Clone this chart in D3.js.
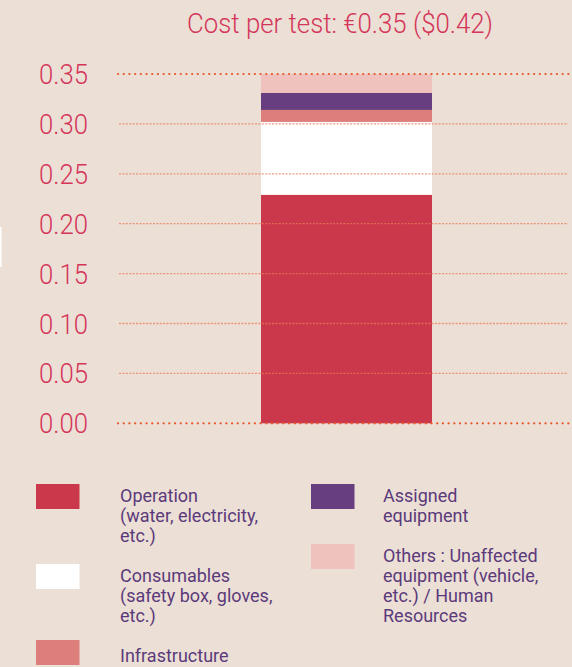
<!DOCTYPE html>
<html>
<head>
<meta charset="utf-8">
<script src="https://cdn.jsdelivr.net/npm/d3@7/dist/d3.min.js"></script>
<style>
  html, body { margin: 0; padding: 0; background: #ecdfd5; }
  svg { display: block; }
</style>
</head>
<body>
<script>
// Cost breakdown per test (EUR), stacked bottom to top
const categories = [
  "Operation",
  "Consumables",
  "Infrastructure",
  "Assigned equipment",
  "Others"
];
const values = [0.229, 0.073, 0.012, 0.017, 0.019];
const colors = ["#cc384b", "#ffffff", "#dd7e7c", "#673f80", "#efc2bd"];
const yTicks = [0.00, 0.05, 0.10, 0.15, 0.20, 0.25, 0.30, 0.35];
const titleText = "Cost per test: \u20AC0.35 ($0.42)";

// Legend entries: label lines and column/row placement
const legendLines = [
  ["Operation", "(water, electricity,", "etc.)"],
  ["Consumables", "(safety box, gloves,", "etc.)"],
  ["Infrastructure"],
  ["Assigned", "equipment"],
  ["Others : Unaffected", "equipment (vehicle,", "etc.) / Human", "Resources"]
];
const legendCol = [0, 0, 0, 1, 1];
const legendRow = [0, 1, 2, 0, 1];

const W = 572, H = 667;
const svg = d3.select("body").append("svg").attr("width", W).attr("height", H);

svg.append("rect").attr("width", W).attr("height", H).attr("fill", "#ecdfd5");
// thin light mark along the left edge
svg.append("rect").attr("x", 0).attr("y", 227).attr("width", 1.5).attr("height", 40).attr("fill", "#ffffff");

const y = d3.scaleLinear().domain([0, 0.35]).range([423.3, 74]);
const x = d3.scaleBand().domain(["total"]).range([261, 432]).padding(0);

// Stack the segments
const row = { key: "total" };
categories.forEach((c, i) => row[c] = values[i]);
const stacked = d3.stack().keys(categories)([row]);

svg.append("g").selectAll("rect")
  .data(stacked)
  .join("rect")
  .attr("x", x("total"))
  .attr("width", x.bandwidth())
  .attr("y", d => y(d[0][1]))
  .attr("height", d => y(d[0][0]) - y(d[0][1]))
  .attr("fill", (d, i) => colors[i]);

// Gridlines drawn over the bar
const grid = svg.append("g");
yTicks.forEach(t => {
  const edge = (t === 0 || t === 0.35);
  grid.append("line")
    .attr("x1", edge ? 118 : 119)
    .attr("x2", edge ? 572 : 568)
    .attr("y1", y(t)).attr("y2", y(t))
    .attr("stroke", edge ? "#e8562a" : "#ea7a55")
    .attr("stroke-opacity", edge ? 1 : 0.75)
    .attr("stroke-width", edge ? 2.2 : 1.3)
    .attr("stroke-linecap", edge ? "round" : "butt")
    .attr("stroke-dasharray", edge ? "0.1 5.6" : "2 1.4");
});

// Y axis labels
const axis = d3.axisLeft(y).tickValues(yTicks).tickFormat(d3.format(".2f")).tickSize(0).tickPadding(0);
const ax = svg.append("g").attr("transform", "translate(88,0)").call(axis);
ax.select(".domain").remove();
ax.selectAll("text")
  .attr("fill", "#d4365a")
  .attr("font-family", "Roboto, 'Open Sans', sans-serif")
  .attr("font-weight", 300)
  .attr("font-size", 28)
  .attr("dy", "0.34em")
  .attr("textLength", 49)
  .attr("lengthAdjust", "spacingAndGlyphs");

// Title
svg.append("text")
  .attr("x", 340).attr("y", 33)
  .attr("text-anchor", "middle")
  .attr("fill", "#d4365a")
  .attr("font-family", "Roboto, 'Open Sans', sans-serif")
  .attr("font-weight", 300)
  .attr("font-size", 27)
  .attr("textLength", 306)
  .attr("lengthAdjust", "spacingAndGlyphs")
  .text(titleText);

// Legend
const colX = [36, 311], textX = [120, 383];
const rowYLeft = [484, 564, 640], rowYRight = [484, 544];
const textDrop = [18, 18, 21.5, 18, 18];
const lg = svg.append("g");
categories.forEach((c, i) => {
  const col = legendCol[i];
  const top = col === 0 ? rowYLeft[legendRow[i]] : rowYRight[legendRow[i]];
  lg.append("rect")
    .attr("x", colX[col]).attr("y", top)
    .attr("width", 43.5).attr("height", 25)
    .attr("fill", colors[i]);
  const t = lg.append("text")
    .attr("fill", "#5b3a7b")
    .attr("font-family", "Roboto, 'Open Sans', sans-serif")
    .attr("font-size", 18);
  legendLines[i].forEach((line, k) => {
    t.append("tspan")
      .attr("x", textX[col])
      .attr("y", top + textDrop[i] + k * 20)
      .text(line);
  });
});
</script>
</body>
</html>
